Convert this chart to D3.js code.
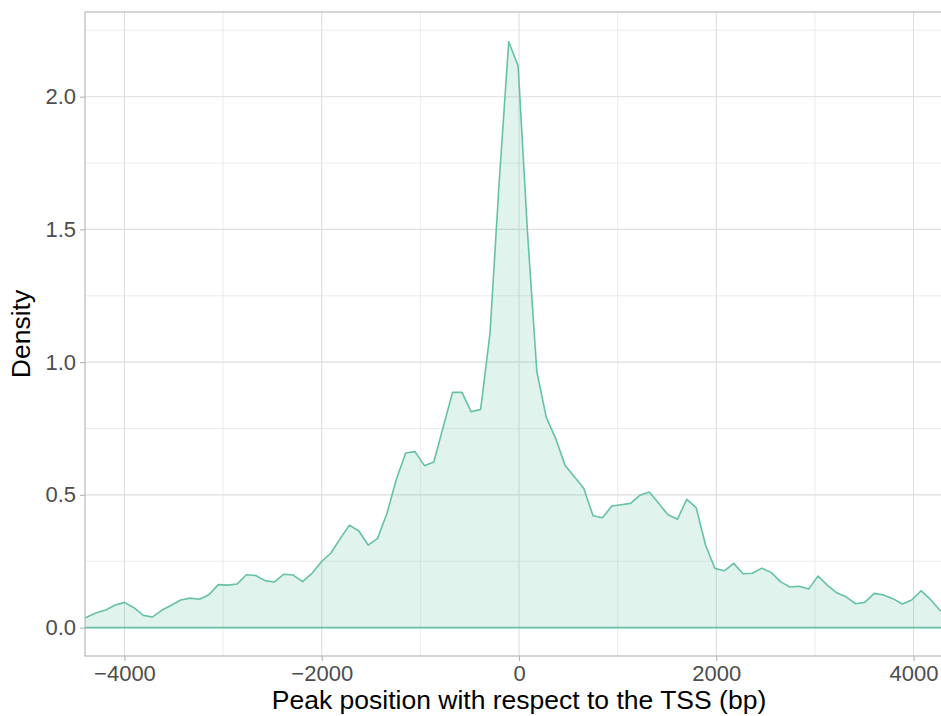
<!DOCTYPE html>
<html>
<head>
<meta charset="utf-8">
<script src="https://cdn.jsdelivr.net/npm/d3@7"></script>
<style>
  body { margin: 0; background: #fff; }
  svg { display: block; font-family: "Liberation Sans", Arial, sans-serif; }
</style>
</head>
<body>
<svg id="chart" width="941" height="716"></svg>
<script>
// peak positions (bp) at which the density was evaluated
const positions = [
  -4474, -4379, -4284, -4189, -4094, -3999, -3904, -3809, -3714, -3619,
  -3524, -3429, -3334, -3239, -3144, -3049, -2954, -2859, -2764, -2669,
  -2574, -2479, -2384, -2289, -2194, -2099, -2004, -1909, -1814, -1719,
  -1624, -1529, -1434, -1339, -1244, -1149, -1054, -959, -864, -769,
  -674, -579, -484, -389, -294, -199, -104, -9, 86, 181,
  276, 371, 466, 561, 656, 751, 846, 941, 1036, 1131,
  1226, 1321, 1416, 1511, 1606, 1701, 1796, 1891, 1986, 2081,
  2176, 2271, 2366, 2461, 2556, 2651, 2746, 2841, 2936, 3031,
  3126, 3221, 3316, 3411, 3506, 3601, 3696, 3791, 3886, 3981,
  4076, 4171, 4266, 4361
];

const density = [
  0.025, 0.040, 0.056, 0.066, 0.085, 0.095, 0.075, 0.046, 0.040, 0.066,
  0.084, 0.104, 0.111, 0.107, 0.124, 0.162, 0.160, 0.164, 0.199, 0.196,
  0.177, 0.172, 0.201, 0.198, 0.173, 0.204, 0.248, 0.280, 0.334, 0.386,
  0.364, 0.311, 0.336, 0.430, 0.558, 0.658, 0.663, 0.610, 0.624, 0.755,
  0.886, 0.886, 0.813, 0.822, 1.108, 1.690, 2.207, 2.116, 1.490, 0.964,
  0.793, 0.713, 0.612, 0.568, 0.525, 0.421, 0.414, 0.458, 0.463, 0.468,
  0.499, 0.511, 0.468, 0.425, 0.408, 0.483, 0.452, 0.311, 0.223, 0.214,
  0.242, 0.203, 0.205, 0.224, 0.208, 0.173, 0.153, 0.156, 0.145, 0.194,
  0.160, 0.131, 0.116, 0.090, 0.095, 0.129, 0.123, 0.109, 0.089, 0.104,
  0.139, 0.106, 0.066, 0.045
];

const xMajor = [-4000, -2000, 0, 2000, 4000];
const xMinor = [-3000, -1000, 1000, 3000];
const yMajor = [0, 0.5, 1.0, 1.5, 2.0];
const yMinor = [0.25, 0.75, 1.25, 1.75, 2.25];

const xTitle = 'Peak position with respect to the TSS (bp)';
const yTitle = 'Density';

const lineColor = '#66c2a5';

// panel box (right side runs past the picture edge, as in the original)
const panel = { left: 85, right: 953, top: 12, bottom: 656 };

const svg = d3.select('#chart');

const x = d3.scaleLinear().domain([-4400, 4400]).range([panel.left, panel.right]);
const y = d3.scaleLinear().domain([-0.107, 2.319]).range([panel.bottom, panel.top]);

const data = positions.map((p, i) => ({ x: p, y: density[i] }));

svg.append('defs').append('clipPath')
    .attr('id', 'panel-clip')
    .append('rect')
    .attr('x', panel.left)
    .attr('y', panel.top)
    .attr('width', panel.right - panel.left)
    .attr('height', panel.bottom - panel.top);

const plot = svg.append('g').attr('clip-path', 'url(#panel-clip)');

// minor grid
plot.selectAll('.vminor').data(xMinor).enter().append('line')
    .attr('x1', d => x(d)).attr('x2', d => x(d))
    .attr('y1', panel.top).attr('y2', panel.bottom)
    .attr('stroke', '#e8e8e8').attr('stroke-width', 0.8);
plot.selectAll('.hminor').data(yMinor).enter().append('line')
    .attr('y1', d => y(d)).attr('y2', d => y(d))
    .attr('x1', panel.left).attr('x2', panel.right)
    .attr('stroke', '#e8e8e8').attr('stroke-width', 0.8);

// major grid
plot.selectAll('.vmajor').data(xMajor).enter().append('line')
    .attr('x1', d => x(d)).attr('x2', d => x(d))
    .attr('y1', panel.top).attr('y2', panel.bottom)
    .attr('stroke', '#dedede').attr('stroke-width', 1.1);
plot.selectAll('.hmajor').data(yMajor).enter().append('line')
    .attr('y1', d => y(d)).attr('y2', d => y(d))
    .attr('x1', panel.left).attr('x2', panel.right)
    .attr('stroke', '#dedede').attr('stroke-width', 1.1);

// density area + outline
plot.append('path')
    .datum(data)
    .attr('fill', lineColor)
    .attr('fill-opacity', 0.2)
    .attr('d', d3.area().x(d => x(d.x)).y0(y(0)).y1(d => y(d.y)));

plot.append('path')
    .datum(data)
    .attr('fill', 'none')
    .attr('stroke', lineColor)
    .attr('stroke-width', 1.6)
    .attr('stroke-linejoin', 'round')
    .attr('d', d3.line().x(d => x(d.x)).y(d => y(d.y)));

plot.append('line')
    .attr('x1', panel.left).attr('x2', panel.right)
    .attr('y1', y(0)).attr('y2', y(0))
    .attr('stroke', lineColor)
    .attr('stroke-width', 1.6);

// panel border
svg.append('rect')
    .attr('x', panel.left)
    .attr('y', panel.top)
    .attr('width', panel.right - panel.left)
    .attr('height', panel.bottom - panel.top)
    .attr('fill', 'none')
    .attr('stroke', '#b3b3b3')
    .attr('stroke-width', 1.1);

// axes
const xAxis = svg.append('g')
    .attr('transform', `translate(0,${panel.bottom})`)
    .call(d3.axisBottom(x).tickValues(xMajor).tickSize(5).tickPadding(4)
        .tickFormat(d => d < 0 ? '\u2212' + Math.abs(d) : String(d)));

const yAxis = svg.append('g')
    .attr('transform', `translate(${panel.left},0)`)
    .call(d3.axisLeft(y).tickValues(yMajor).tickSize(5).tickPadding(4)
        .tickFormat(d3.format('.1f')));

[xAxis, yAxis].forEach(a => {
    a.select('.domain').remove();
    a.selectAll('.tick line').attr('stroke', '#b3b3b3').attr('stroke-width', 1.1);
    a.selectAll('.tick text')
        .attr('fill', '#4d4d4d')
        .style('font-size', '22px')
        .style('font-family', '"Liberation Sans", Arial, sans-serif');
});

// axis titles
svg.append('text')
    .attr('x', x(0))
    .attr('y', 709)
    .attr('text-anchor', 'middle')
    .style('font-size', '26.5px')
    .attr('fill', '#000')
    .text(xTitle);

svg.append('text')
    .attr('transform', `translate(30,${(panel.top + panel.bottom) / 2}) rotate(-90)`)
    .attr('text-anchor', 'middle')
    .style('font-size', '26.5px')
    .attr('fill', '#000')
    .text(yTitle);
</script>
</body>
</html>
